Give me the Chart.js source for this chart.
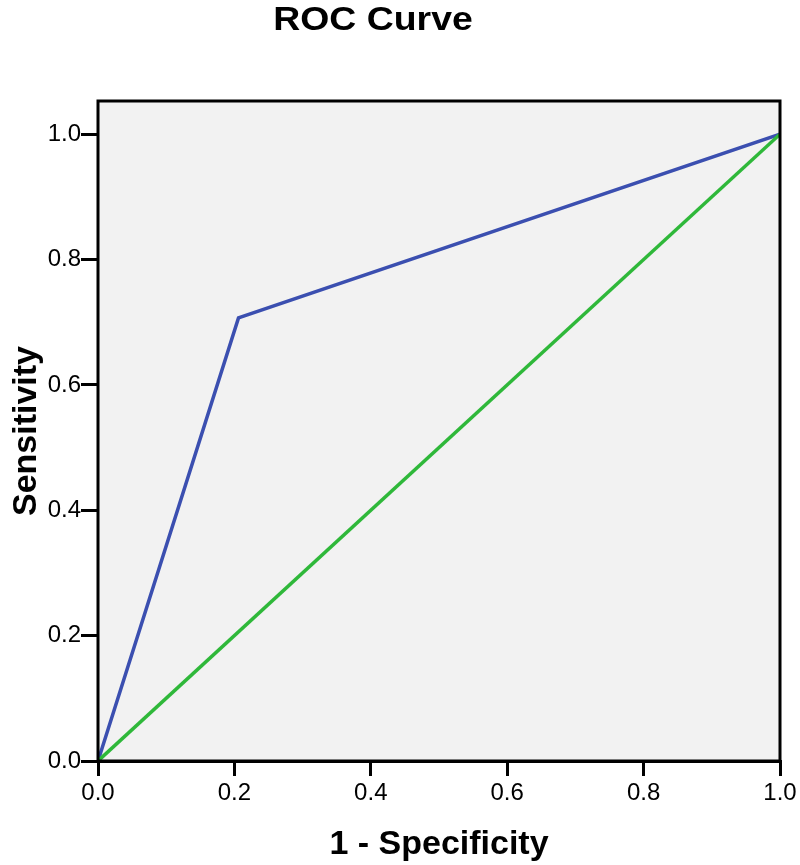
<!DOCTYPE html>
<html>
<head>
<meta charset="utf-8">
<script src="https://cdn.jsdelivr.net/npm/chart.js@4/dist/chart.umd.min.js"></script>
<style>
  html, body { margin: 0; padding: 0; background: #fff; }
  #wrap { width: 800px; height: 865px; }
</style>
</head>
<body>
<div id="wrap"><canvas id="roc"></canvas></div>
<script>
// ROC curve points (1 - specificity, sensitivity)
const rocX = [0.0, 0.206, 1.0];
const rocY = [0.0, 0.707, 1.0];
// reference diagonal
const refX = [0.0, 1.0];
const refY = [0.0, 1.0];
const tickValues = [0.0, 0.2, 0.4, 0.6, 0.8, 1.0];
const chartTitle = 'ROC Curve';

const FONT = "'Liberation Sans', Arial, sans-serif";

// gray plot area, black frame, and the title (sits left of centre, as in SPSS output)
const frame = {
    id: 'frame',
    beforeDatasetsDraw(chart) {
        const a = chart.chartArea;
        const ctx = chart.ctx;
        ctx.save();
        ctx.fillStyle = '#f2f2f2';
        ctx.fillRect(a.left, a.top, a.right - a.left, a.bottom - a.top);
        ctx.restore();
    },
    afterDraw(chart) {
        const a = chart.chartArea;
        const ctx = chart.ctx;
        ctx.save();
        ctx.strokeStyle = '#000';
        ctx.lineWidth = 3;
        ctx.strokeRect(a.left, a.top, a.right - a.left, a.bottom - a.top);

        ctx.translate(373, 21);
        ctx.scale(1.1, 1);
        ctx.fillStyle = '#000';
        ctx.font = 'bold 34px ' + FONT;
        ctx.textAlign = 'center';
        ctx.textBaseline = 'middle';
        ctx.fillText(chartTitle, 0, 0);
        ctx.restore();
    }
};

const toPts = (xs, ys) => xs.map((x, i) => ({ x: x, y: ys[i] }));

new Chart(document.getElementById('roc'), {
    type: 'scatter',
    data: {
        datasets: [
            {
                label: 'Reference',
                data: toPts(refX, refY),
                showLine: true,
                borderColor: '#2fb83a',
                borderWidth: 3.5,
                pointRadius: 0
            },
            {
                label: 'ROC',
                data: toPts(rocX, rocY),
                showLine: true,
                borderColor: '#3b4fb0',
                borderWidth: 3.5,
                pointRadius: 0
            }
        ]
    },
    options: {
        responsive: true,
        maintainAspectRatio: false,
        animation: false,
        layout: { padding: { left: 6, right: 20, top: 101, bottom: 0 } },
        plugins: {
            legend: { display: false },
            tooltip: { enabled: false }
        },
        scales: {
            x: {
                type: 'linear',
                min: 0,
                max: 1.0,
                afterBuildTicks: axis => { axis.ticks = tickValues.map(v => ({ value: v })); },
                afterFit: axis => { axis.height = 104; },
                ticks: {
                    color: '#000',
                    font: { family: FONT, size: 24 },
                    padding: 3,
                    callback: v => v.toFixed(1)
                },
                grid: { drawOnChartArea: false, drawTicks: true, tickLength: 15, color: '#000', lineWidth: 3 },
                border: { display: true, color: '#000', width: 3 },
                title: {
                    display: true,
                    text: '1 - Specificity',
                    color: '#000',
                    font: { family: FONT, size: 34, weight: 'bold' },
                    padding: { top: 0, bottom: 0 }
                }
            },
            y: {
                type: 'linear',
                min: 0,
                max: 1.053,
                afterBuildTicks: axis => { axis.ticks = tickValues.map(v => ({ value: v })); },
                afterFit: axis => { axis.width = 92; },
                ticks: {
                    color: '#000',
                    font: { family: FONT, size: 24 },
                    padding: 0,
                    callback: v => v.toFixed(1)
                },
                grid: { drawOnChartArea: false, drawTicks: true, tickLength: 17, color: '#000', lineWidth: 3 },
                border: { display: true, color: '#000', width: 3 },
                title: {
                    display: true,
                    text: 'Sensitivity',
                    color: '#000',
                    font: { family: FONT, size: 34, weight: 'bold' },
                    padding: { top: 0, bottom: 0 }
                }
            }
        }
    },
    plugins: [frame]
});
</script>
</body>
</html>
